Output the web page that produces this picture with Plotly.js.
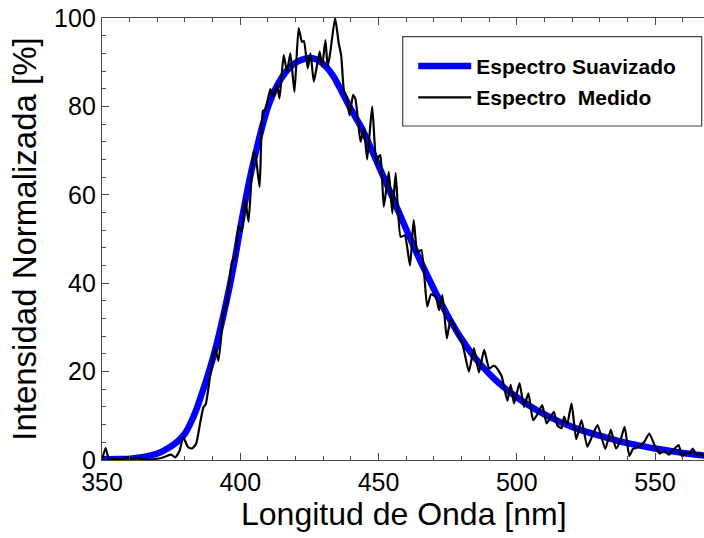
<!DOCTYPE html>
<html>
<head>
<meta charset="utf-8">
<script src="https://cdn.plot.ly/plotly-3.0.1.min.js"></script>
<style>html,body{margin:0;padding:0;background:#fff;}#chart{width:704px;height:538px;}</style>
</head>
<body>
<div id="chart"></div>
<script>
// Smoothed spectrum (nm, %)
const smoothX = [350,355,360,365,368,371,374,377,380,382,384,386,388,390,392,394,396,398,400,402,404,406,408,410,412,414,416,418,420,422,424,426,428,430,432,434,436,438,440,442,444,446,448,450,455,460,465,470,475,480,485,490,495,500,505,510,515,520,525,530,535,540,545,550,555,560,565,568];
const smoothY = [0.2,0.2,0.3,0.7,1.1,1.7,2.7,4.0,6.0,8.3,11.2,14.8,18.6,22.8,27.6,33.0,38.8,45.2,52.5,59.2,65.3,70.6,75.6,79.8,83.0,85.5,87.4,88.9,89.9,90.5,90.9,90.9,90.5,89.6,88.3,86.5,84.2,81.8,79.4,77.2,75.0,72.3,69.5,66.6,59.5,52.2,45.2,38.7,32.7,27.4,23.0,19.5,16.6,14.2,12.1,10.3,8.8,7.5,6.4,5.5,4.6,3.8,3.2,2.6,2.1,1.6,1.2,1.0];

// Measured spectrum (nm, %)
const measX = [350,351.3,352.5,355,357,359,361,363,365,367,369,371,373,375,376.5,378,379.4,381,382.5,384,385.5,386.7,387.5,389.1,390.9,392.1,394,395.2,397,398.2,399.4,400.6,401.8,403,404.8,405.5,407,408.2,409,410.9,412,413.3,414.2,415.7,416.9,418.1,419.6,421.1,422.3,423,424.4,425.4,426.6,428.7,429.6,430.8,431.6,432.5,434.3,435.6,436.5,437.5,438.5,439.5,440.8,441.7,443.5,444.7,445.9,447.7,449.2,450.1,450.7,451.9,453.7,455,456.2,458,459.5,461.4,462.7,464.1,465.5,467.6,469,470.7,471.9,473.1,474.7,476.1,477.9,480.3,482.7,484.5,486.3,488.2,490,491.5,492.4,494.5,496.6,497.8,499,501,502.6,504.2,505.9,507.5,509.2,510.8,513.4,514.7,516.2,517.1,518.2,519.8,521.5,523.4,525.5,527,529.2,532,534,535.9,537.5,539,540.7,542,543.5,546,547.9,549.8,551.6,553.5,555,556.5,558.5,559.8,561,562.5,563.6,565,566.3,567.9];
const measY = [0,2.7,0.2,0.3,0.1,0.6,0.3,0.5,0.1,0.0,0.2,0.4,0.8,1.2,0.6,2.0,5.2,3.0,2.6,3.6,8.4,12.0,12.6,19.0,25.3,22.4,33.5,35.8,44.8,46.0,52.8,51.8,59.0,53.9,69.8,69.0,61.8,79.0,79.2,83.9,82.2,84.8,81.8,91.6,87.9,92.0,83.3,97.7,94.6,94.8,88.6,92.0,85.6,92.4,89.0,95.0,89.0,92.0,100,94.3,91.5,83.5,82.0,78.0,82.6,81.5,72.0,75.0,68.0,80.0,67.0,68.6,69.0,57.3,65.2,55.8,64.9,50.5,50.8,44.0,54.3,47.0,47.5,34.7,37.5,36.9,33.9,37.3,27.5,32.0,29.4,26.4,20.0,25.3,19.8,24.9,20.7,21.3,21.1,19.0,13.4,17.0,12.8,17.4,12.0,15.1,9.0,10.4,12.4,8.3,10.9,7.8,7.2,9.8,8.0,12.8,4.7,9.0,3.0,5.0,7.9,2.5,6.8,2.6,4.5,7.5,0.9,2.5,2.8,4.0,6.0,3.4,1.5,2.0,1.2,2.2,3.4,0.8,1.6,1.5,2.6,1.2,1.5,0.7];

const xTicks = [350,400,450,500,550];
const yTicks = [0,20,40,60,80,100];
const seriesNames = ['Espectro Suavizado', 'Espectro\u00a0 Medido'];
const xTitle = 'Longitud de Onda [nm]';
const yTitle = 'Intensidad Normalizada [%]';

const FONT = 'Liberation Sans, Arial, Helvetica, sans-serif';
const AXC = '#4a4a4a';

const traces = [
  {x: smoothX, y: smoothY, type: 'scatter', mode: 'lines', name: seriesNames[0],
   line: {color: '#0000ff', width: 6.5, shape: 'spline', smoothing: 0.8}, legendgroup: 'a'},
  {x: measX, y: measY, type: 'scatter', mode: 'lines', name: seriesNames[1],
   line: {color: '#000000', width: 2.2, shape: 'spline', smoothing: 0.5}, legendgroup: 'b'}
];

const layout = {
  width: 704, height: 538,
  margin: {l: 102, r: 0, t: 18, b: 78},
  paper_bgcolor: '#ffffff', plot_bgcolor: '#ffffff',
  font: {family: FONT, color: '#000'},
  showlegend: true,
  legend: {x: 0.517, xanchor: 'left', y: 0.937, yanchor: 'top',
           bgcolor: 'rgba(0,0,0,0)', borderwidth: 0, itemwidth: 53,
           font: {family: FONT, size: 21, color: '#000', weight: 'bold'},
           traceorder: 'grouped', tracegroupgap: 1},
  xaxis: {range: [350, 567.7], tickvals: xTicks, ticktext: xTicks.map(String),
          ticks: 'inside', ticklen: 7, tickcolor: AXC, tickwidth: 1,
          showline: true, linecolor: AXC, linewidth: 1.2, mirror: 'ticks',
          showgrid: false, zeroline: false,
          minor: {dtick: 10, ticks: 'inside', ticklen: 4, tickcolor: AXC, showgrid: false},
          tickfont: {family: FONT, size: 25, color: '#000'}},
  yaxis: {range: [0, 100], tickvals: yTicks, ticktext: yTicks.map(String),
          ticks: 'inside', ticklen: 7, tickcolor: AXC, tickwidth: 1,
          showline: true, linecolor: AXC, linewidth: 1.2, mirror: false,
          showgrid: false, zeroline: false,
          minor: {dtick: 4, ticks: 'inside', ticklen: 4, tickcolor: AXC, showgrid: false},
          tickfont: {family: FONT, size: 25, color: '#000'},
          title: {text: yTitle, font: {family: FONT, size: 33, color: '#000'}, standoff: 7}},
  annotations: [{text: xTitle, xref: 'paper', yref: 'paper', x: 0.502, y: -0.122,
                 xanchor: 'center', yanchor: 'middle', showarrow: false,
                 font: {family: FONT, size: 32, color: '#000'}}],
  shapes: [{type: 'rect', xref: 'paper', yref: 'paper', x0: 0.4995, x1: 0.9962, y0: 0.7557, y1: 0.9577,
            line: {color: '#444', width: 1.2}, fillcolor: 'rgba(0,0,0,0)', layer: 'above'}]
};

Plotly.newPlot('chart', traces, layout, {staticPlot: true, displayModeBar: false});
</script>
</body>
</html>
